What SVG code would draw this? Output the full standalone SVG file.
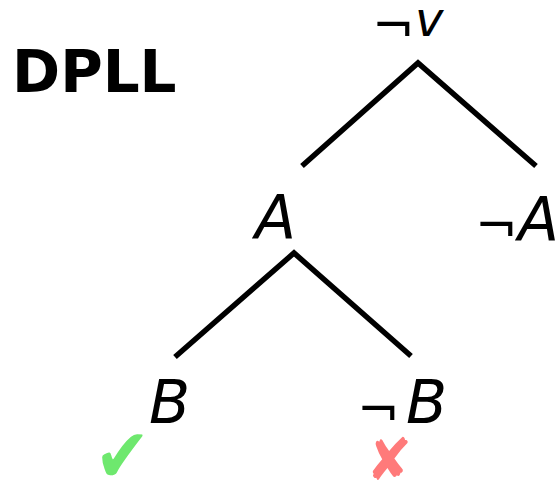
<svg xmlns="http://www.w3.org/2000/svg" width="560" height="481" viewBox="0 0 560 481">
<style>
.t{font-family:"DejaVu Sans",sans-serif;fill:#000}
.n{font-size:51px}
.i{font-style:italic;font-size:60px}
.e{stroke:#000;stroke-width:5.5;fill:none;stroke-linecap:butt;stroke-linejoin:miter}
</style>
<rect width="560" height="481" fill="#fff"/>
<text x="12" y="92" class="t" font-weight="bold" font-size="58">DPLL</text>
<g id="connectors">
<path class="e" d="M302,166 L418,63 L536,166"/>
<path class="e" d="M175,357 L294,253 L411,356"/>
</g>
<g id="root"><text class="t"><tspan x="372" y="44" class="n">¬</tspan><tspan x="415" y="36" class="i" style="font-size:48px">v</tspan></text></g>
<g id="nA"><text x="255" y="238" class="t i">A</text></g>
<g id="nnA"><text class="t"><tspan x="475" y="244" class="n">¬</tspan><tspan x="518" y="240" class="i">A</tspan></text></g>
<g id="nB"><text x="149" y="423" class="t i">B</text></g>
<g id="nnB"><text class="t"><tspan x="357" y="428" class="n">¬</tspan><tspan x="406" y="423" class="i">B</tspan></text></g>
<g id="ok"><text transform="translate(94.6,482) scale(1.28,1.45)" class="t" font-size="52" style="fill:#6ee86e">✔</text></g>
<g id="bad"><text transform="translate(366,480) scale(1.2,1.27)" class="t" font-size="46" style="fill:#ff7a7a">✘</text></g>
</svg>
